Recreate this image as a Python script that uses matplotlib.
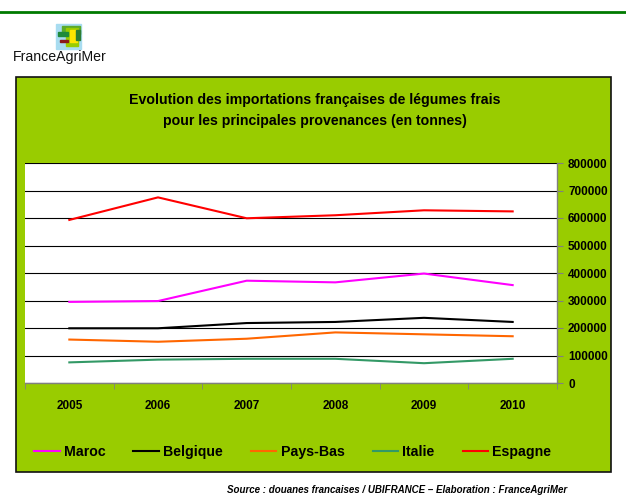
import numpy as np
import matplotlib.pyplot as plt
from matplotlib.patches import Rectangle
from matplotlib.lines import Line2D

years = ['2005', '2006', '2007', '2008', '2009', '2010']
maroc = [295000, 298000, 372000, 366000, 398000, 356000]
belgique = [199000, 199000, 218000, 222000, 237000, 222000]
pays_bas = [158000, 150000, 161000, 184000, 177000, 170000]
italie = [75000, 85000, 88000, 88000, 72000, 88000]
espagne = [593000, 675000, 599000, 610000, 628000, 624000]

series = [('Maroc', maroc, '#FF00FF'),
          ('Belgique', belgique, '#000000'),
          ('Pays-Bas', pays_bas, '#FF6600'),
          ('Italie', italie, '#339966'),
          ('Espagne', espagne, '#FF0000')]

plt.rcParams['font.family'] = ['Liberation Sans', 'DejaVu Sans']

W, H = 626, 496
fig = plt.figure(figsize=(W / 100, H / 100), dpi=100)
fig.patch.set_facecolor('white')


def px(x, y, w, h):
    # pixel box (top-left origin) -> figure fraction
    return [x / W, 1 - (y + h) / H, w / W, h / H]


# green line at the top
fig.add_artist(Line2D([0, 1], [1 - 12 / H, 1 - 12 / H], color='#007A00', lw=2,
                      transform=fig.transFigure))

# logo
logo = [(56, 24, 25, 25, '#A8DCF0'), (62, 26, 18, 8, '#5BAA2A'), (66, 28, 12, 18, '#99CC00'),
        (70, 30, 7, 12, '#FFE600'), (58, 32, 10, 4, '#1F8A3A'), (60, 40, 8, 2, '#8B1A1A'),
        (76, 30, 4, 10, '#2E7D32')]
for x, y, w, h, c in logo:
    b = px(x, y, w, h)
    fig.add_artist(Rectangle((b[0], b[1]), b[2], b[3], color=c, transform=fig.transFigure))
fig.text(13 / W, 1 - 57 / H, 'FranceAgriMer', fontsize=10.2, va='center', ha='left',
         color='#111111')

# green panel
b = px(16, 77, 595, 395)
fig.add_artist(Rectangle((b[0], b[1]), b[2], b[3], facecolor='#99CC00', edgecolor='#111111',
                         lw=1.2, transform=fig.transFigure, zorder=0))

fig.text(315 / W, 1 - 100 / H, 'Evolution des importations françaises de légumes frais',
         fontsize=10.2, fontweight='bold', ha='center', va='center')
fig.text(315 / W, 1 - 121 / H, 'pour les principales provenances (en tonnes)',
         fontsize=10.2, fontweight='bold', ha='center', va='center')

ax = fig.add_axes(px(25, 163, 532, 220))
ax.set_facecolor('white')
x = np.arange(len(years))
for name, vals, col in series:
    ax.plot(x, vals, color=col, lw=1.5, label=name)

ax.set_xlim(-0.5, len(years) - 0.5)
ax.set_ylim(0, 800000)
ax.set_yticks(np.arange(0, 800001, 100000))
ax.set_yticklabels([str(v) for v in range(0, 800001, 100000)], fontsize=8.5, fontweight='bold')
ax.yaxis.tick_right()
ax.tick_params(axis='y', length=4, color='#808080', pad=4)
ax.grid(axis='y', color='black', lw=0.8)
ax.set_axisbelow(True)

ax.set_xticks(x)
ax.set_xticklabels(years, fontsize=8.5, fontweight='bold')
ax.set_xticks(np.arange(-0.5, len(years)), minor=True)
ax.tick_params(axis='x', which='major', length=0, pad=12)
ax.tick_params(axis='x', which='minor', length=4, color='#808080')

for s in ['left', 'top']:
    ax.spines[s].set_visible(False)
for s in ['right', 'bottom']:
    ax.spines[s].set_color('#808080')
    ax.spines[s].set_linewidth(1)

fig.legend(loc='center left', bbox_to_anchor=(34 / W, 1 - 452 / H), ncol=5, frameon=False,
           prop={'size': 10.2, 'weight': 'bold'}, handlelength=1.8, handletextpad=0.3,
           columnspacing=1.98, borderpad=0, borderaxespad=0)

fig.text(567 / W, 1 - 490 / H,
         'Source : douanes francaises / UBIFRANCE – Elaboration : FranceAgriMer',
         fontsize=7, fontweight='bold', style='italic', ha='right', va='center')

fig.savefig('out.png', dpi=100)
